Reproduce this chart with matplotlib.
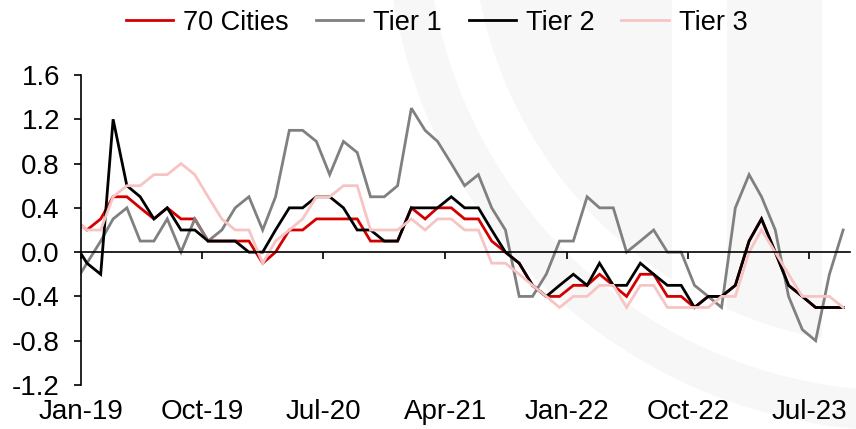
import matplotlib
matplotlib.use('Agg')
import matplotlib.pyplot as plt
import matplotlib.dates as mdates
from matplotlib.patches import Wedge, Circle, Rectangle
import pandas as pd

# ---- data (monthly % change, Dec-18 .. Sep-23) ----
months = pd.date_range('2018-12-01', '2023-09-01', freq='MS')
cities70 = [0.3, 0.2, 0.3, 0.5, 0.5, 0.4, 0.3, 0.4, 0.3, 0.3, 0.1, 0.1, 0.1,
            0.1, -0.1, 0.0, 0.2, 0.2, 0.3, 0.3, 0.3, 0.3, 0.1, 0.1, 0.1,
            0.4, 0.3, 0.4, 0.4, 0.3, 0.3, 0.1, 0.0, -0.1, -0.3, -0.4, -0.4,
            -0.3, -0.3, -0.2, -0.3, -0.4, -0.2, -0.2, -0.4, -0.4, -0.5, -0.4,
            -0.4, -0.3, 0.1, 0.3, 0.0, -0.3, -0.4, -0.5, -0.5, -0.5]
tier1 = [-0.3, -0.1, 0.1, 0.3, 0.4, 0.1, 0.1, 0.3, 0.0, 0.3, 0.1, 0.2, 0.4,
         0.5, 0.2, 0.5, 1.1, 1.1, 1.0, 0.7, 1.0, 0.9, 0.5, 0.5, 0.6,
         1.3, 1.1, 1.0, 0.8, 0.6, 0.7, 0.4, 0.2, -0.4, -0.4, -0.2, 0.1,
         0.1, 0.5, 0.4, 0.4, 0.0, 0.1, 0.2, 0.0, 0.0, -0.3, -0.4,
         -0.5, 0.4, 0.7, 0.5, 0.2, -0.4, -0.7, -0.8, -0.2, 0.2]
tier2 = [0.1, -0.1, -0.2, 1.2, 0.6, 0.5, 0.3, 0.4, 0.2, 0.2, 0.1, 0.1, 0.1,
         0.0, 0.0, 0.2, 0.4, 0.4, 0.5, 0.5, 0.4, 0.2, 0.2, 0.1, 0.1,
         0.4, 0.4, 0.4, 0.5, 0.4, 0.4, 0.2, 0.0, -0.1, -0.3, -0.4, -0.3,
         -0.2, -0.3, -0.1, -0.3, -0.3, -0.1, -0.2, -0.3, -0.3, -0.5, -0.4,
         -0.4, -0.3, 0.1, 0.3, 0.0, -0.3, -0.4, -0.5, -0.5, -0.5]
tier3 = [0.3, 0.2, 0.2, 0.5, 0.6, 0.6, 0.7, 0.7, 0.8, 0.7, 0.5, 0.3, 0.2,
         0.2, -0.1, 0.1, 0.2, 0.3, 0.5, 0.5, 0.6, 0.6, 0.2, 0.2, 0.2,
         0.3, 0.2, 0.3, 0.3, 0.2, 0.2, -0.1, -0.1, -0.2, -0.3, -0.4, -0.5,
         -0.4, -0.4, -0.3, -0.3, -0.5, -0.3, -0.3, -0.5, -0.5, -0.5, -0.5,
         -0.4, -0.4, 0.0, 0.2, 0.0, -0.2, -0.4, -0.4, -0.4, -0.5]
series_names = ['70 Cities', 'Tier 1', 'Tier 2', 'Tier 3']
tick_months = pd.date_range('2019-01-01', '2023-07-01', freq='9MS')
tick_labels = [d.strftime('%b-%y') for d in tick_months]
yticks = [-1.2, -0.8, -0.4, 0.0, 0.4, 0.8, 1.2, 1.6]

colors = ['#D40000', '#808080', '#000000', '#F7C4C4']

plt.rcParams['font.family'] = ['Liberation Sans', 'DejaVu Sans']
fs = 20

W, H = 856, 429
fig = plt.figure(figsize=(W / 100, H / 100), dpi=100)

# ---- faint background watermark (pixel coordinates) ----
wm = '#F7F7F7'
cx, cy = 901.6, H + 84.1
ring = Wedge((cx, cy), 515, 0, 360, width=40, facecolor=wm, edgecolor='none',
             transform=None, zorder=-5)
fig.add_artist(ring)
disc = Circle((cx, cy), 430, transform=None)
for x0, x1 in [(0, 672), (727, 822)]:
    r = Rectangle((x0, 0), x1 - x0, H, facecolor=wm, edgecolor='none',
                  transform=None, zorder=-5)
    r.set_clip_path(disc)
    fig.add_artist(r)

ax = fig.add_axes([0.0943, 0.1026, 0.899, 0.7226])
ax.patch.set_alpha(0)

# points sit mid-month, ticks at month starts
xnum = mdates.date2num(months + pd.Timedelta(days=14))
for vals, name, c in zip([cities70, tier1, tier2, tier3], series_names, colors):
    ax.plot(xnum, vals, color=c, lw=2.0, label=name, solid_joinstyle='miter')

ax.set_xlim(mdates.date2num(pd.Timestamp('2019-01-01')),
            mdates.date2num(pd.Timestamp('2023-10-01')))
ax.set_ylim(-1.2, 1.6)
ax.set_yticks(yticks)
ax.set_yticklabels([f'{v:.1f}' for v in yticks], fontsize=fs)

for s in ['top', 'right']:
    ax.spines[s].set_visible(False)
ax.spines['left'].set_linewidth(1.2)
ax.spines['bottom'].set_position(('data', 0))
ax.spines['bottom'].set_linewidth(1.2)
ax.set_xticks(mdates.date2num(tick_months))
ax.tick_params(axis='x', direction='out', length=5, width=1.2, labelbottom=False)
ax.tick_params(axis='y', direction='out', length=5, width=1.2, pad=10)

sec = ax.secondary_xaxis(0)
sec.set_xticks(mdates.date2num(tick_months), labels=tick_labels)
sec.tick_params(length=0, pad=10, labelsize=fs)
sec.spines['bottom'].set_visible(False)

fig.legend(loc='center', bbox_to_anchor=(0.51, 0.947), ncol=4, frameon=False,
           fontsize=19.5, handlelength=1.75, handletextpad=0.36, columnspacing=1.0)

fig.savefig('out.png', dpi=100)
